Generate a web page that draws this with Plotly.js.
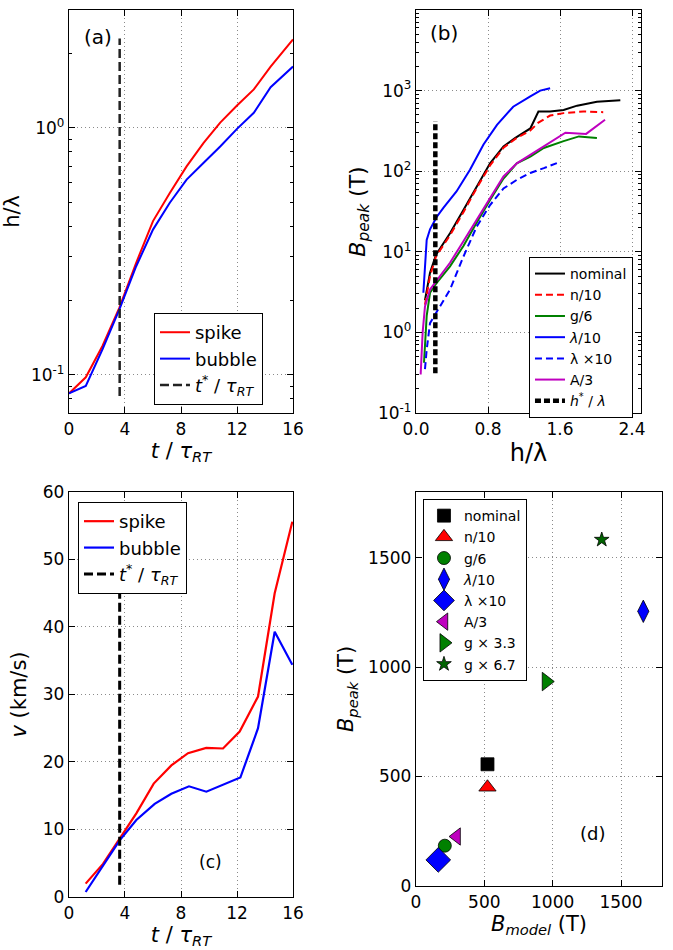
<!DOCTYPE html>
<html>
<head>
<meta charset="utf-8">
<script src="https://cdn.plot.ly/plotly-3.0.1.min.js"></script>
<style>html,body{margin:0;padding:0;background:#fff;}#plot{width:673px;height:950px;}</style>
</head>
<body>
<div id="plot"></div>
<script>
// ---------- Panel (a): h/lambda vs t/tau_RT ----------
const tA = [0, 1.2, 2.4, 3.6, 4.8, 6.0, 7.2, 8.4, 9.6, 10.8, 12.0, 13.2, 14.4, 16.0];
const hSpike = [0.084, 0.0976, 0.131, 0.187, 0.284, 0.419, 0.544, 0.698, 0.867, 1.05, 1.23, 1.43, 1.77, 2.28];
const hBubble = [0.084, 0.090, 0.127, 0.184, 0.275, 0.387, 0.497, 0.617, 0.72, 0.84, 0.99, 1.15, 1.46, 1.77];
const tStar = 3.62;
const hStarLine = [0.082, 2.3];

// ---------- Panel (b): B_peak vs h/lambda ----------
const hNominal = [0.10, 0.156, 0.223, 0.378, 0.527, 0.675, 0.823, 0.972, 1.10, 1.27, 1.36, 1.49, 1.64, 1.79, 2.01, 2.27];
const bNominal = [2.5, 5.5, 9.2, 17, 33, 65, 125, 203, 257, 339, 550, 550, 575, 650, 726, 760];
const hN10 = [0.10, 0.156, 0.223, 0.378, 0.527, 0.675, 0.823, 0.972, 1.10, 1.27, 1.36, 1.49, 1.64, 1.86, 2.08];
const bN10 = [2.2, 5.0, 8.8, 16, 31, 62, 118, 195, 250, 320, 400, 490, 525, 550, 540];
const hG6 = [0.089, 0.119, 0.156, 0.23, 0.378, 0.527, 0.675, 0.823, 0.972, 1.12, 1.27, 1.42, 1.64, 1.81, 2.01];
const bG6 = [0.42, 1.6, 3.1, 4.1, 6.6, 11.8, 23, 44, 81, 125, 152, 194, 236, 270, 258];
const hL10 = [0.082, 0.10, 0.119, 0.156, 0.23, 0.304, 0.45, 0.60, 0.75, 0.90, 1.08, 1.27, 1.38, 1.49];
const bL10 = [3.1, 7.9, 14, 19, 27, 35, 56, 104, 214, 375, 630, 845, 1000, 1070];
const hLx10 = [0.10, 0.119, 0.156, 0.23, 0.378, 0.527, 0.675, 0.823, 0.972, 1.12, 1.27, 1.42, 1.565];
const bLx10 = [0.35, 0.61, 1.3, 1.8, 3.4, 8.7, 20.6, 38, 61, 78, 95, 109, 126];
const hA3 = [0.052, 0.074, 0.10, 0.156, 0.211, 0.378, 0.527, 0.675, 0.823, 0.972, 1.12, 1.42, 1.66, 1.89, 2.10];
const bA3 = [0.30, 1.0, 2.1, 3.4, 4.1, 7.3, 13.5, 25, 46, 86, 125, 205, 300, 290, 435];
const hStar = 0.215;
const bStarLine = [0.31, 420];

// ---------- Panel (c): v vs t/tau_RT ----------
const tC = [1.19, 2.43, 3.62, 4.81, 6.05, 7.31, 8.5, 9.8, 11.0, 12.19, 13.5, 14.69, 15.95];
const vSpike = [1.98, 4.9, 8.65, 12.4, 16.8, 19.5, 21.3, 22.1, 22.0, 24.5, 29.7, 45.0, 55.6];
const tCb = [1.19, 2.43, 3.62, 4.81, 6.12, 7.31, 8.57, 9.81, 11.0, 12.24, 13.5, 14.69, 15.95];
const vBubble = [0.74, 4.7, 8.4, 11.4, 13.8, 15.3, 16.4, 15.6, 16.6, 17.7, 25.0, 39.3, 34.4];
const vStarLine = [1.8, 56];

// ---------- Panel (d): B_peak vs B_model ----------
const caseNames = ["nominal", "n/10", "g/6", "<i>λ</i>/10", "λ ×10", "A/3", "g × 3.3", "g × 6.7"];
const bModel = [523, 523, 211, 1663, 163, 297, 953, 1359];
const bPeak = [556, 451, 184, 1255, 119, 226, 934, 1582];
const caseSymbols = ["square", "triangle-up", "circle", "diamond-tall", "diamond", "triangle-left", "triangle-right", "star"];
const caseColors = ["#000000", "#ff0000", "#008000", "#0000ff", "#0000ff", "#bf00bf", "#008000", "#006400"];
const caseSizes = [13, 15, 13, 16, 19, 15, 16, 11];

const FONT = "DejaVu Sans, sans-serif";
const tauTitle = "<i>t</i> / <i>τ</i><sub><i>RT</i></sub>";

const traces = [];
// (a)
traces.push({x: tA, y: hSpike, mode: "lines", name: "spike", line: {color: "#ff0000", width: 2}, xaxis: "x", yaxis: "y", legend: "legend"});
traces.push({x: tA, y: hBubble, mode: "lines", name: "bubble", line: {color: "#0000ff", width: 2}, xaxis: "x", yaxis: "y", legend: "legend"});
traces.push({x: [tStar, tStar], y: hStarLine, mode: "lines", name: "<i>t</i><sup>*</sup> / <i>τ</i><sub><i>RT</i></sub>", line: {color: "#222222", width: 2.5, dash: "9px,4px"}, xaxis: "x", yaxis: "y", legend: "legend"});
// (b)
const bSeries = [
  [hNominal, bNominal, "nominal", "#000000", "solid"],
  [hN10, bN10, "n/10", "#ff0000", "7px,4px"],
  [hG6, bG6, "g/6", "#008000", "solid"],
  [hL10, bL10, "<i>λ</i>/10", "#0000ff", "solid"],
  [hLx10, bLx10, "λ ×10", "#0000ff", "7px,4px"],
  [hA3, bA3, "A/3", "#bf00bf", "solid"]
];
bSeries.forEach(s => traces.push({x: s[0], y: s[1], mode: "lines", name: s[2], line: {color: s[3], width: 2, dash: s[4]}, xaxis: "x2", yaxis: "y2", legend: "legend2"}));
traces.push({x: [hStar, hStar], y: bStarLine, mode: "lines", name: "<i>h</i><sup>*</sup> / <i>λ</i>", line: {color: "#000000", width: 4.5, dash: "6px,3px"}, xaxis: "x2", yaxis: "y2", legend: "legend2"});
// (c)
traces.push({x: tC, y: vSpike, mode: "lines", name: "spike", line: {color: "#ff0000", width: 2.2}, xaxis: "x3", yaxis: "y3", legend: "legend3"});
traces.push({x: tCb, y: vBubble, mode: "lines", name: "bubble", line: {color: "#0000ff", width: 2.2}, xaxis: "x3", yaxis: "y3", legend: "legend3"});
traces.push({x: [tStar, tStar], y: vStarLine, mode: "lines", name: "<i>t</i><sup>*</sup> / <i>τ</i><sub><i>RT</i></sub>", line: {color: "#000000", width: 3, dash: "9px,4px"}, xaxis: "x3", yaxis: "y3", legend: "legend3"});
// (d)
caseNames.forEach((n, i) => traces.push({x: [bModel[i]], y: [bPeak[i]], mode: "markers", name: n,
  marker: {symbol: caseSymbols[i], color: caseColors[i], size: caseSizes[i], line: {color: "#000000", width: 0.8}},
  xaxis: "x4", yaxis: "y4", legend: "legend4"}));

function decadeMinors(lo, hi) {
  const out = [];
  for (let e = lo; e < hi; e++) for (let m = 2; m <= 9; m++) out.push(m * Math.pow(10, e));
  return out;
}

const axBase = {
  showline: true, linecolor: "#000", linewidth: 1.2, mirror: "allticks",
  ticks: "inside", ticklen: 6, tickwidth: 1, tickcolor: "#000",
  showgrid: true, gridcolor: "#8a8a8a", griddash: "1px,3px", gridwidth: 1,
  zeroline: false, tickfont: {family: FONT, size: 17, color: "#000"},
  title: {font: {family: FONT, size: 21, color: "#000"}}
};
function ax(extra) { return Object.assign(JSON.parse(JSON.stringify(axBase)), extra); }

const legBase = {bgcolor: "#fff", bordercolor: "#000", borderwidth: 1, xanchor: "left", yanchor: "top", xref: "paper", yref: "paper", tracegroupgap: 0};

const layout = {
  width: 673, height: 950,
  margin: {l: 0, r: 0, t: 0, b: 0},
  paper_bgcolor: "#fff", plot_bgcolor: "#fff",
  font: {family: FONT, color: "#000"},
  xaxis: ax({domain: [0.1025, 0.4354], anchor: "y", range: [0, 16], tickvals: [0, 4, 8, 12, 16], title: {text: tauTitle, font: {family: FONT, size: 21}, standoff: 4}}),
  yaxis: ax({domain: [0.5653, 0.9895], anchor: "x", type: "log", range: [Math.log10(0.07), Math.log10(3)],
    tickvals: [0.1, 1], ticktext: ["10<sup>-1</sup>", "10<sup>0</sup>"],
    minor: {tickmode: "array", tickvals: decadeMinors(-2, 1), ticks: "inside", ticklen: 3, tickcolor: "#000", showgrid: false},
    title: {text: "h/λ", font: {family: FONT, size: 21}, standoff: 12}}),
  xaxis2: ax({domain: [0.6181, 0.9525], anchor: "y2", range: [0, 2.5], tickvals: [0, 0.8, 1.6, 2.4], ticktext: ["0.0", "0.8", "1.6", "2.4"],
    title: {text: "h/λ", font: {family: FONT, size: 24}, standoff: 4}}),
  yaxis2: ax({domain: [0.5653, 0.9895], anchor: "x2", type: "log", range: [-1, 4],
    tickvals: [0.1, 1, 10, 100, 1000, 10000], ticktext: ["10<sup>-1</sup>", "10<sup>0</sup>", "10<sup>1</sup>", "10<sup>2</sup>", "10<sup>3</sup>", "10<sup>4</sup>"],
    minor: {tickmode: "array", tickvals: decadeMinors(-1, 4), ticks: "inside", ticklen: 3, tickcolor: "#000", showgrid: false},
    title: {text: "<i>B</i><sub><i>peak</i></sub> (T)", font: {family: FONT, size: 22}, standoff: 6}}),
  xaxis3: ax({domain: [0.1025, 0.4354], anchor: "y3", range: [0, 16], tickvals: [0, 4, 8, 12, 16], title: {text: tauTitle, font: {family: FONT, size: 21}, standoff: 4}}),
  yaxis3: ax({domain: [0.0558, 0.4821], anchor: "x3", range: [0, 60], tickvals: [0, 10, 20, 30, 40, 50, 60],
    title: {text: "<i>v</i> (km/s)", font: {family: FONT, size: 21}, standoff: 10}}),
  xaxis4: ax({domain: [0.6181, 0.9837], anchor: "y4", range: [0, 1800], tickvals: [0, 500, 1000, 1500],
    title: {text: "<i>B</i><sub><i>model</i></sub> (T)", font: {family: FONT, size: 21}, standoff: 4}}),
  yaxis4: ax({domain: [0.0674, 0.4821], anchor: "x4", range: [0, 1800], tickvals: [0, 500, 1000, 1500],
    title: {text: "<i>B</i><sub><i>peak</i></sub> (T)", font: {family: FONT, size: 21}, standoff: 8}}),
  legend: Object.assign({}, legBase, {x: 0.2288, y: 0.6705, font: {family: FONT, size: 18}, itemwidth: 30}),
  legend2: Object.assign({}, legBase, {x: 0.786, y: 0.7295, font: {family: FONT, size: 14}, itemwidth: 30}),
  legend3: Object.assign({}, legBase, {x: 0.1159, y: 0.4716, font: {family: FONT, size: 18}, itemwidth: 30}),
  legend4: Object.assign({}, legBase, {x: 0.6285, y: 0.4747, font: {family: FONT, size: 14}, itemwidth: 30}),
  showlegend: true,
  annotations: [
    {text: "(a)", xref: "paper", yref: "paper", x: 0.1456, y: 0.961, xanchor: "center", yanchor: "middle", showarrow: false, font: {family: FONT, size: 20}},
    {text: "(b)", xref: "paper", yref: "paper", x: 0.66, y: 0.965, xanchor: "center", yanchor: "middle", showarrow: false, font: {family: FONT, size: 20}},
    {text: "(c)", xref: "paper", yref: "paper", x: 0.3135, y: 0.0926, xanchor: "center", yanchor: "middle", showarrow: false, font: {family: FONT, size: 17}},
    {text: "(d)", xref: "paper", yref: "paper", x: 0.881, y: 0.123, xanchor: "center", yanchor: "middle", showarrow: false, font: {family: FONT, size: 18}}
  ]
};

Plotly.newPlot("plot", traces, layout, {staticPlot: true, displayModeBar: false});
</script>
</body>
</html>
